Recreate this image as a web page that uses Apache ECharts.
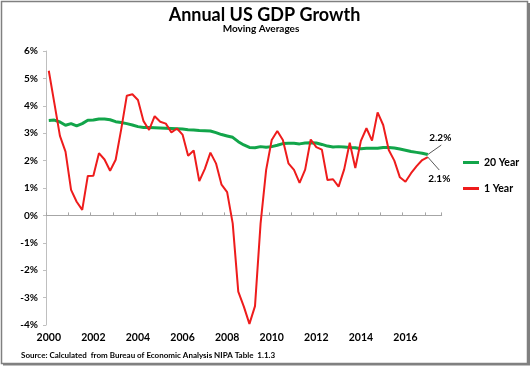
<!DOCTYPE html>
<html>
<head>
<meta charset="utf-8">
<script src="https://cdn.jsdelivr.net/npm/echarts@6/dist/echarts.min.js"></script>
<style>
html,body{margin:0;padding:0;background:#fff;}
#chart{width:531px;height:367px;}
</style>
</head>
<body>
<div id="chart"></div>
<script>
// ---- data ----
const startYear = 2000;
const endYear = 2017;
const categoryCount = 71; // quarterly slots 2000Q1 .. 2017Q3
const yearTickLabels = ['2000','2002','2004','2006','2008','2010','2012','2014','2016'];
const yTickLabels = ['-4%','-3%','-2%','-1%','0%','1%','2%','3%','4%','5%','6%'];
const seriesNames = ['20 Year', '1 Year'];

// 20 year moving average (%), quarterly from 2000Q1
const twentyYear = [
  3.46, 3.48, 3.41, 3.29, 3.35, 3.27, 3.35, 3.47, 3.48, 3.52,
  3.52, 3.49, 3.42, 3.39, 3.35, 3.30, 3.24, 3.21, 3.21, 3.20,
  3.19, 3.18, 3.17, 3.16, 3.15, 3.13, 3.12, 3.10, 3.09, 3.08,
  3.02, 2.95, 2.90, 2.85, 2.69, 2.57, 2.48, 2.47, 2.51, 2.49,
  2.51, 2.56, 2.62, 2.63, 2.63, 2.61, 2.64, 2.65, 2.64, 2.59,
  2.53, 2.50, 2.51, 2.50, 2.48, 2.47, 2.43, 2.45, 2.45, 2.45,
  2.48, 2.48, 2.46, 2.42, 2.38, 2.33, 2.30, 2.27, 2.22
];
// 1 year moving average (%), quarterly from 2000Q1
const oneYear = [
  5.28, 4.10, 2.90, 2.33, 0.93, 0.50, 0.20, 1.44, 1.45, 2.27,
  2.04, 1.63, 2.03, 3.15, 4.37, 4.42, 4.21, 3.44, 3.12, 3.62,
  3.42, 3.35, 3.03, 3.17, 2.95, 2.18, 2.37, 1.25, 1.70, 2.29,
  1.90, 1.12, 0.85, -0.29, -2.78, -3.33, -3.96, -3.31, -0.30, 1.66,
  2.75, 3.08, 2.75, 1.90, 1.66, 1.19, 1.67, 2.77, 2.49, 2.40,
  1.29, 1.32, 1.05, 1.68, 2.65, 1.73, 2.72, 3.18, 2.73, 3.76,
  3.30, 2.39, 2.00, 1.39, 1.23, 1.54, 1.80, 2.02, 2.13
];
const endLabels = ['2.2%', '2.1%'];

// categories (quarters)
const categories = [];
for (let y = startYear; y <= endYear; y++) {
  for (let q = 1; q <= 4; q++) {
    if (categories.length < categoryCount) categories.push(y + ' Q' + q);
  }
}

const FONT = 'Lato, "Open Sans", sans-serif';
const GREEN = '#12a54a';
const RED = '#ee1c1c';

const chart = echarts.init(document.getElementById('chart'), null, {renderer: 'canvas'});

const option = {
  animation: false,
  backgroundColor: '#ffffff',
  title: [
    {text: 'Annual US GDP Growth', left: 259.5, top: 1, textAlign: 'center',
     textStyle: {fontFamily: FONT, fontWeight: 'bold', fontSize: 18, color: '#000'}},
    {text: 'Moving Averages', left: 256, top: 19, textAlign: 'center',
     textStyle: {fontFamily: FONT, fontWeight: 'bold', fontSize: 10, color: '#000'}},
    {text: 'Source: Calculated  from Bureau of Economic Analysis NIPA Table  1.1.3', left: 16, top: 346,
     textStyle: {fontFamily: FONT, fontWeight: 'bold', fontSize: 8, color: '#000'}}
  ],
  legend: {
    data: seriesNames,
    orient: 'vertical',
    left: 458,
    top: 152,
    icon: 'rect',
    itemWidth: 16,
    itemHeight: 3,
    itemGap: 15,
    textStyle: {fontFamily: FONT, fontWeight: 'bold', fontSize: 10.5, color: '#000'}
  },
  grid: {left: 46, right: 89.3, top: 51, bottom: 42, containLabel: false},
  xAxis: [
    {
      type: 'category', data: categories, boundaryGap: true, position: 'bottom',
      axisLine: {onZero: true, lineStyle: {color: '#a6a6a6', width: 1}},
      axisTick: {show: true, interval: 3, inside: true, length: 3, lineStyle: {color: '#a6a6a6'}},
      axisLabel: {show: false},
      splitLine: {show: false}
    },
    {
      type: 'category', data: categories, boundaryGap: true, position: 'bottom',
      axisLine: {show: false, onZero: false},
      axisTick: {show: false},
      axisLabel: {show: true, interval: 7, margin: 7,
        formatter: function (v, i) { return (i % 8 === 0 && yearTickLabels[i / 8]) ? yearTickLabels[i / 8] : ''; },
        fontFamily: FONT, fontWeight: 'bold', fontSize: 10.5, color: '#000'},
      splitLine: {show: false}
    }
  ],
  yAxis: {
    type: 'value', min: -4, max: 6, interval: 1,
    axisLine: {show: true, lineStyle: {color: '#bfbfbf'}},
    axisTick: {show: true, length: 3, lineStyle: {color: '#bfbfbf'}},
    axisLabel: {margin: 8, fontFamily: FONT, fontWeight: 'bold', fontSize: 10, color: '#000',
      formatter: function (v) { return yTickLabels[Math.round(v) + 4]; }},
    splitLine: {show: false}
  },
  series: [
    {name: seriesNames[0], type: 'line', data: twentyYear, xAxisIndex: 0,
     symbol: 'none', smooth: false, lineStyle: {color: GREEN, width: 3}, itemStyle: {color: GREEN}, z: 2},
    {name: seriesNames[1], type: 'line', data: oneYear, xAxisIndex: 0,
     symbol: 'none', smooth: false, lineStyle: {color: RED, width: 2}, itemStyle: {color: RED}, z: 3}
  ]
};
chart.setOption(option);

// annotations at last points, positioned from the chart's own scales
const last = twentyYear.length - 1;
const pg = chart.convertToPixel({xAxisIndex: 0, yAxisIndex: 0}, [last, twentyYear[last]]);
const pr = chart.convertToPixel({xAxisIndex: 0, yAxisIndex: 0}, [last, oneYear[last]]);
const annStyle = {fontFamily: FONT, fontWeight: 'bold', fontSize: 10, fill: '#000'};
chart.setOption({
  graphic: [
    {type: 'line', shape: {x1: pg[0], y1: pg[1], x2: pg[0] + 13.5, y2: pg[1] - 9.5},
     style: {stroke: '#595959', lineWidth: 1}, z: 10},
    {type: 'text', x: pg[0] + 12.5, y: pg[1] - 17,
     style: Object.assign({text: endLabels[0], align: 'center', verticalAlign: 'middle'}, annStyle), z: 10},
    {type: 'line', shape: {x1: pr[0], y1: pr[1], x2: pr[0] + 11.5, y2: pr[1] + 13},
     style: {stroke: '#595959', lineWidth: 1}, z: 10},
    {type: 'text', x: pr[0] + 11.5, y: pr[1] + 21.5,
     style: Object.assign({text: endLabels[1], align: 'center', verticalAlign: 'middle'}, annStyle), z: 10},
    // outer frame with shadow
    {type: 'rect', shape: {x: 1.5, y: 1.5, width: 526, height: 362},
     style: {fill: 'none', stroke: '#808080', lineWidth: 1.5}, z: 20, silent: true},
    {type: 'rect', shape: {x: 527.5, y: 3, width: 2.5, height: 362},
     style: {fill: '#808080'}, z: 20, silent: true},
    {type: 'rect', shape: {x: 3, y: 363, width: 527, height: 2.5},
     style: {fill: '#808080'}, z: 20, silent: true}
  ]
});
</script>
</body>
</html>
